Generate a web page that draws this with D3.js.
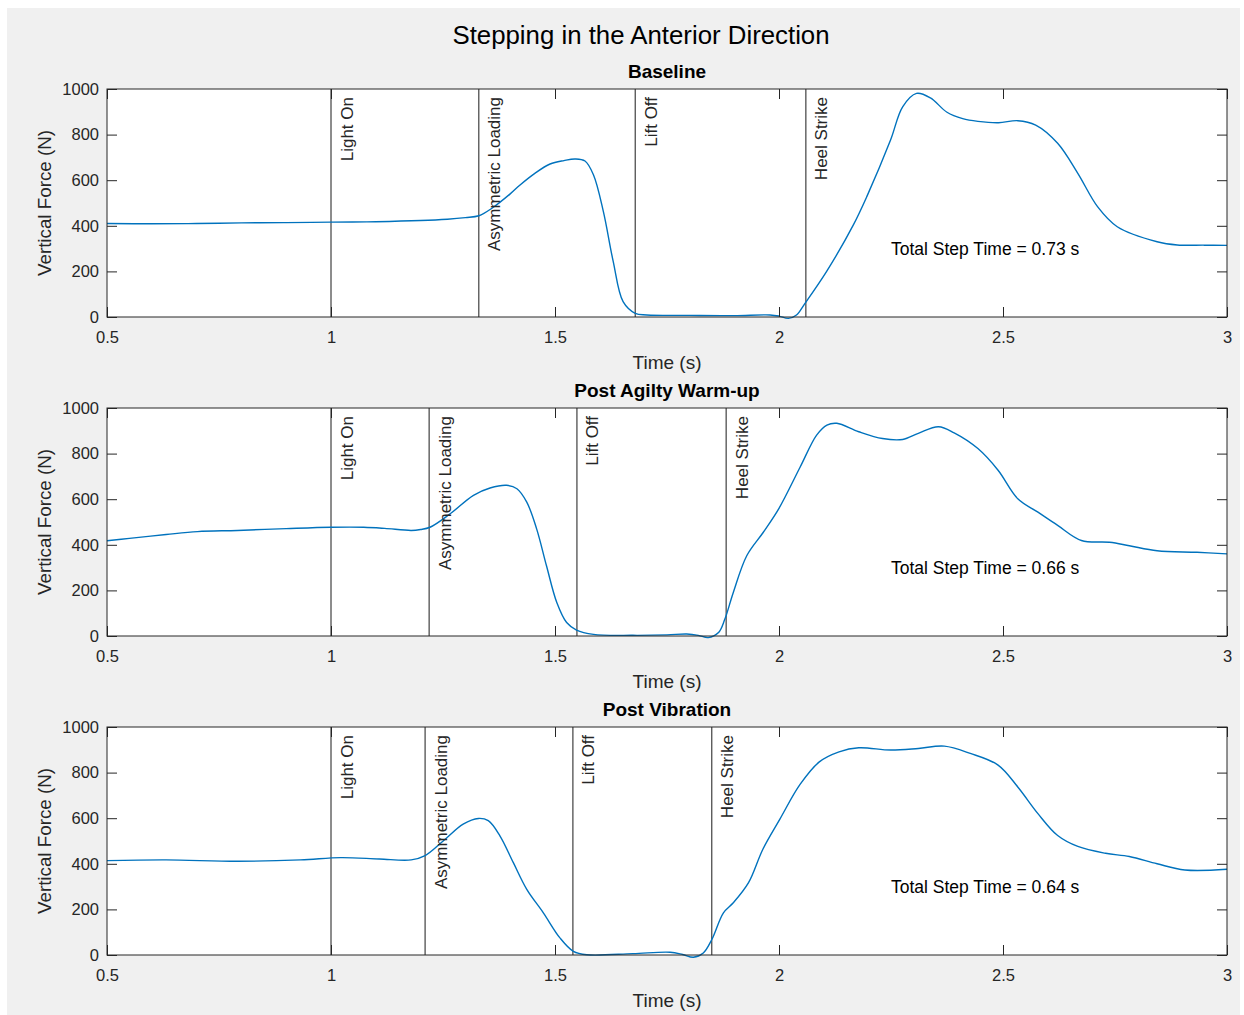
<!DOCTYPE html>
<html>
<head>
<meta charset="utf-8">
<script src="https://cdn.jsdelivr.net/npm/d3@7"></script>
<style>
    body { margin: 0; background: #ffffff; }
    text { font-family: 'Liberation Sans', Arial, Helvetica, sans-serif; }
</style>
</head>
<body>
<svg id="figure"></svg>
<script>
const figureTitle = 'Stepping in the Anterior Direction';
const panelTitles = ['Baseline', 'Post Agilty Warm-up', 'Post Vibration'];
const eventNames = ['Light On', 'Asymmetric Loading', 'Lift Off', 'Heel Strike'];
const stepTimeLabels = ['Total Step Time = 0.73 s', 'Total Step Time = 0.66 s', 'Total Step Time = 0.64 s'];

const baselineEvents = [1.0, 1.33, 1.679, 2.06];
const agilityEvents = [1.0, 1.219, 1.549, 1.882];
const vibrationEvents = [1.0, 1.21, 1.54, 1.85];

const xTicks = [0.5, 1, 1.5, 2, 2.5, 3];
const yTicks = [0, 200, 400, 600, 800, 1000];

const baselineTime = [0.5, 0.6, 0.7, 0.8, 0.9, 1.0, 1.1, 1.2, 1.26, 1.3, 1.33, 1.36, 1.4, 1.422, 1.455, 1.489, 1.52, 1.545, 1.567, 1.586, 1.608, 1.63, 1.652, 1.679, 1.705, 1.8, 1.9, 1.98, 2.0, 2.021, 2.039, 2.058, 2.106, 2.166, 2.196, 2.249, 2.276, 2.307, 2.338, 2.375, 2.41, 2.444, 2.49, 2.533, 2.573, 2.622, 2.667, 2.711, 2.755, 2.844, 2.889, 2.95, 3.0];
const baselineForce = [410, 409, 410, 413, 414, 416, 418, 423, 429, 436, 444, 478, 540, 579, 630, 671, 686, 693, 684, 623, 462, 243, 67, 16, 9, 7, 6, 9, 4, -6, 9, 60, 199, 404, 528, 776, 922, 981, 961, 898, 870, 858, 852, 861, 842, 762, 630, 484, 396, 330, 316, 315, 314];

const agilityTime = [0.5, 0.55, 0.632, 0.702, 0.791, 0.9, 1.0, 1.073, 1.12, 1.179, 1.2, 1.221, 1.266, 1.318, 1.355, 1.392, 1.415, 1.437, 1.459, 1.481, 1.504, 1.526, 1.548, 1.586, 1.674, 1.75, 1.794, 1.82, 1.842, 1.865, 1.879, 1.898, 1.928, 1.965, 2.0, 2.047, 2.084, 2.107, 2.129, 2.178, 2.231, 2.276, 2.311, 2.356, 2.391, 2.444, 2.489, 2.533, 2.578, 2.622, 2.675, 2.738, 2.782, 2.844, 2.933, 3.0];
const agilityForce = [418, 428, 445, 458, 463, 471, 477, 477, 472, 463, 467, 477, 536, 617, 649, 661, 646, 587, 470, 308, 147, 59, 26, 7, 3, 5, 9, 3, -7, 15, 73, 191, 352, 455, 560, 740, 881, 925, 933, 896, 866, 862, 889, 918, 891, 822, 727, 602, 543, 485, 419, 411, 396, 374, 367, 360];

const vibrationTime = [0.5, 0.632, 0.791, 0.932, 1.022, 1.108, 1.179, 1.21, 1.251, 1.295, 1.329, 1.351, 1.377, 1.407, 1.437, 1.474, 1.511, 1.541, 1.571, 1.674, 1.757, 1.785, 1.809, 1.831, 1.85, 1.876, 1.898, 1.932, 1.964, 2.002, 2.047, 2.09, 2.134, 2.178, 2.249, 2.311, 2.369, 2.427, 2.489, 2.533, 2.578, 2.622, 2.667, 2.729, 2.782, 2.844, 2.906, 3.0];
const vibrationForce = [414, 417, 411, 417, 427, 421, 417, 436, 501, 574, 599, 589, 523, 405, 288, 185, 75, 16, 1, 6, 12, 2, -10, 9, 68, 185, 229, 317, 464, 596, 748, 847, 891, 909, 899, 906, 916, 884, 833, 737, 620, 524, 476, 446, 432, 400, 373, 376];

const panels = [
    { time: baselineTime, force: baselineForce, events: baselineEvents },
    { time: agilityTime, force: agilityForce, events: agilityEvents },
    { time: vibrationTime, force: vibrationForce, events: vibrationEvents }
];

const width = 1244;
const height = 1015;
const plotLeft = 107;
const plotRight = 1227;
const plotTops = [89, 408, 727];
const plotHeight = 228;
const tickLength = 10;
const axisColor = '#262626';

const svg = d3.select('#figure')
    .attr('width', width)
    .attr('height', height);

svg.append('rect')
    .attr('x', 7)
    .attr('y', 8)
    .attr('width', 1233)
    .attr('height', height - 8)
    .attr('fill', '#f0f0f0');

svg.append('text')
    .attr('x', 641)
    .attr('y', 44)
    .attr('text-anchor', 'middle')
    .attr('font-size', '25.8px')
    .attr('fill', '#000000')
    .text(figureTitle);

const x = d3.scaleLinear()
    .domain([0.5, 3])
    .range([plotLeft, plotRight]);

const drawPanel = (panel, i) => {
    const top = plotTops[i];

    const y = d3.scaleLinear()
        .domain([0, 1000])
        .range([top + plotHeight, top]);

    const g = svg.append('g');

    g.append('rect')
        .attr('x', plotLeft)
        .attr('y', top)
        .attr('width', plotRight - plotLeft)
        .attr('height', plotHeight)
        .attr('fill', '#ffffff');

    // event markers
    g.append('g')
        .selectAll('line')
        .data(panel.events)
        .enter()
        .append('line')
        .attr('x1', d => x(d))
        .attr('x2', d => x(d))
        .attr('y1', top)
        .attr('y2', top + plotHeight)
        .attr('stroke', '#1a1a1a')
        .attr('stroke-width', 1);

    const line = d3.line()
        .x((d, j) => x(panel.time[j]))
        .y(d => y(d))
        .curve(d3.curveCatmullRom.alpha(0.5));

    g.append('path')
        .datum(panel.force)
        .attr('fill', 'none')
        .attr('stroke', '#0072bd')
        .attr('stroke-width', 1.4)
        .attr('d', line);

    g.append('g')
        .selectAll('text')
        .data(panel.events)
        .enter()
        .append('text')
        .attr('transform', d => `translate(${x(d) + 21.5},${top + 8}) rotate(-90)`)
        .attr('text-anchor', 'end')
        .attr('font-size', '17px')
        .attr('fill', axisColor)
        .text((d, j) => eventNames[j]);

    g.append('text')
        .attr('x', x(2.25))
        .attr('y', y(300))
        .attr('dy', '0.35em')
        .attr('font-size', '17.5px')
        .attr('fill', '#000000')
        .text(stepTimeLabels[i]);

    // axes with inward ticks on all four sides
    const styleAxis = sel => {
        sel.select('.domain').remove();
        sel.selectAll('line').attr('stroke', axisColor);
        sel.selectAll('text')
            .attr('fill', axisColor)
            .attr('font-size', '16.5px')
            .attr('font-family', "'Liberation Sans', Arial, sans-serif");
    }

    g.append('g')
        .attr('transform', `translate(0,${top + plotHeight})`)
        .call(d3.axisBottom(x).tickValues(xTicks).tickFormat(d3.format('')).tickSizeInner(-tickLength).tickSizeOuter(0).tickPadding(14))
        .call(styleAxis);

    g.append('g')
        .attr('transform', `translate(0,${top})`)
        .call(d3.axisTop(x).tickValues(xTicks).tickFormat('').tickSizeInner(-tickLength).tickSizeOuter(0))
        .call(styleAxis);

    g.append('g')
        .attr('transform', `translate(${plotLeft},0)`)
        .call(d3.axisLeft(y).tickValues(yTicks).tickFormat(d3.format('d')).tickSizeInner(-tickLength).tickSizeOuter(0).tickPadding(8))
        .call(styleAxis);

    g.append('g')
        .attr('transform', `translate(${plotRight},0)`)
        .call(d3.axisRight(y).tickValues(yTicks).tickFormat('').tickSizeInner(-tickLength).tickSizeOuter(0))
        .call(styleAxis);

    g.append('rect')
        .attr('x', plotLeft)
        .attr('y', top)
        .attr('width', plotRight - plotLeft)
        .attr('height', plotHeight)
        .attr('fill', 'none')
        .attr('stroke', axisColor)
        .attr('stroke-width', 1);

    g.append('text')
        .attr('x', (plotLeft + plotRight) / 2)
        .attr('y', top - 11)
        .attr('text-anchor', 'middle')
        .attr('font-size', '19px')
        .attr('font-weight', 'bold')
        .attr('fill', '#000000')
        .text(panelTitles[i]);

    g.append('text')
        .attr('x', (plotLeft + plotRight) / 2)
        .attr('y', top + plotHeight + 52)
        .attr('text-anchor', 'middle')
        .attr('font-size', '19px')
        .attr('fill', axisColor)
        .text('Time (s)');

    g.append('text')
        .attr('transform', `translate(51,${top + plotHeight / 2}) rotate(-90)`)
        .attr('text-anchor', 'middle')
        .attr('font-size', '18.8px')
        .attr('fill', axisColor)
        .text('Vertical Force (N)');
}

panels.forEach(drawPanel);
</script>
</body>
</html>
